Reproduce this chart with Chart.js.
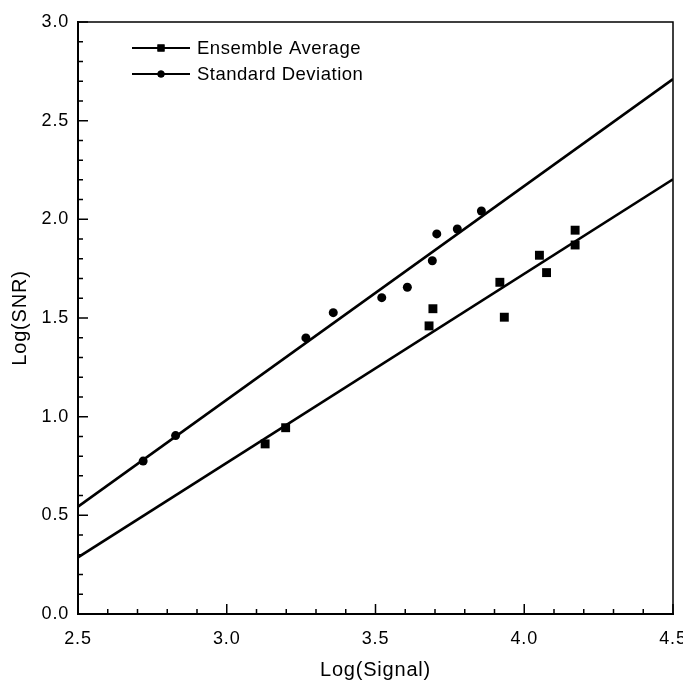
<!DOCTYPE html>
<html>
<head>
<meta charset="utf-8">
<script src="https://cdn.jsdelivr.net/npm/chart.js@4.4.0/dist/chart.umd.min.js"></script>
<style>
  html, body { margin: 0; padding: 0; background: #fff; }
  #wrap { width: 683px; height: 680px; }
</style>
</head>
<body>
<div id="wrap"><canvas id="grafico"></canvas></div>
<script>
// valores
const avgX = [3.129, 3.198, 3.680, 3.693, 3.918, 3.933, 4.051, 4.075, 4.171, 4.171];
const avgY = [0.862, 0.944, 1.460, 1.547, 1.681, 1.504, 1.818, 1.730, 1.945, 1.870];
const sdX = [2.719, 2.828, 3.266, 3.358, 3.521, 3.607, 3.691, 3.706, 3.775, 3.856];
const sdY = [0.775, 0.904, 1.399, 1.527, 1.603, 1.656, 1.790, 1.926, 1.951, 2.042];
// retas ajustadas (extremos)
const fitX = [2.5, 4.5];
const avgFitY = [0.287, 2.203];
const sdFitY = [0.544, 2.711];
const seriesNames = ['Ensemble Average', 'Standard Deviation'];
const xMajor = [2.5, 3.0, 3.5, 4.0, 4.5];
const yMajor = [0.0, 0.5, 1.0, 1.5, 2.0, 2.5, 3.0];

const fonte = "'Liberation Sans', Arial, sans-serif";

function pares(xs, ys) {
  return xs.map((x, i) => ({ x: x, y: ys[i] }));
}

function isMajor(v, lista) {
  return lista.some(m => Math.abs(m - v) < 1e-6);
}

// a fonte do original e um pouco mais larga
const espacoPlugin = {
  id: 'espaco',
  beforeLayout(chart) { chart.ctx.letterSpacing = '0.8px'; },
  beforeDraw(chart) { chart.ctx.letterSpacing = '0.8px'; }
};

// ticks para dentro + moldura
const eixosPlugin = {
  id: 'eixos',
  afterDraw(chart) {
    const ctx = chart.ctx;
    const a = chart.chartArea;
    const sx = chart.scales.x, sy = chart.scales.y;
    ctx.save();
    ctx.strokeStyle = '#000';
    ctx.lineWidth = 1.5;
    ctx.beginPath();
    ctx.moveTo(a.left, a.top);
    ctx.lineTo(a.right, a.top);
    ctx.lineTo(a.right, a.bottom);
    ctx.stroke();

    ctx.beginPath();
    sx.ticks.forEach(t => {
      const px = sx.getPixelForValue(t.value);
      const len = isMajor(t.value, xMajor) ? 10 : 5;
      ctx.moveTo(px, a.bottom);
      ctx.lineTo(px, a.bottom - len);
    });
    sy.ticks.forEach(t => {
      const py = sy.getPixelForValue(t.value);
      const len = isMajor(t.value, yMajor) ? 10 : 5;
      ctx.moveTo(a.left, py);
      ctx.lineTo(a.left + len, py);
    });
    ctx.stroke();
    ctx.restore();
  }
};

// legenda dentro da area do grafico
const legendaPlugin = {
  id: 'legenda',
  afterDraw(chart) {
    const ctx = chart.ctx;
    const itens = [
      { nome: seriesNames[0], estilo: 'rect', raio: 5, y: 48 },
      { nome: seriesNames[1], estilo: 'circle', raio: 3.5, y: 74 }
    ];
    ctx.save();
    ctx.letterSpacing = '0.5px';
    itens.forEach(it => {
      ctx.strokeStyle = '#000';
      ctx.lineWidth = 2;
      ctx.beginPath();
      ctx.moveTo(132, it.y);
      ctx.lineTo(190, it.y);
      ctx.stroke();
      ctx.fillStyle = '#000';
      Chart.helpers.drawPoint(ctx, { pointStyle: it.estilo, radius: it.raio, borderWidth: 0 }, 161, it.y);
      ctx.fill();
      ctx.font = '18.5px ' + fonte;
      ctx.textBaseline = 'middle';
      ctx.textAlign = 'left';
      ctx.fillText(it.nome, 197, it.y + 1);
    });
    ctx.restore();
  }
};

const tickLabel = lista => function (v) {
  return isMajor(v, lista) ? v.toFixed(1) : '';
};

new Chart(grafico, {
  type: 'scatter',
  data: {
    datasets: [
      {
        label: seriesNames[0],
        data: pares(avgX, avgY),
        pointStyle: 'rect',
        pointRadius: 6.3,
        backgroundColor: '#000',
        borderColor: '#000',
        borderWidth: 0
      },
      {
        label: seriesNames[1],
        data: pares(sdX, sdY),
        pointStyle: 'circle',
        pointRadius: 4.5,
        backgroundColor: '#000',
        borderColor: '#000',
        borderWidth: 0
      },
      {
        label: 'fit1',
        data: pares(fitX, avgFitY),
        showLine: true,
        pointRadius: 0,
        borderColor: '#000',
        borderWidth: 2.6
      },
      {
        label: 'fit2',
        data: pares(fitX, sdFitY),
        showLine: true,
        pointRadius: 0,
        borderColor: '#000',
        borderWidth: 2.6
      }
    ]
  },
  options: {
    responsive: true,
    maintainAspectRatio: false,
    animation: false,
    layout: { padding: { left: 0, right: 10, top: 22, bottom: 0 } },
    plugins: {
      legend: { display: false },
      tooltip: { enabled: false }
    },
    scales: {
      x: {
        type: 'linear',
        min: 2.5,
        max: 4.5,
        grid: { display: false, drawTicks: false },
        border: { display: true, color: '#000', width: 2 },
        ticks: {
          stepSize: 0.1,
          autoSkip: false,
          maxRotation: 0,
          padding: 14,
          color: '#000',
          font: { family: fonte, size: 18 },
          callback: tickLabel(xMajor)
        },
        title: {
          display: true,
          text: 'Log(Signal)',
          color: '#000',
          font: { family: fonte, size: 20 },
          padding: { top: 0, bottom: -2 }
        },
        afterFit(scale) {
          scale.height = 66;
          scale.paddingLeft = 0;
          scale.paddingRight = 0;
        }
      },
      y: {
        type: 'linear',
        min: 0,
        max: 3,
        grid: { display: false, drawTicks: false },
        border: { display: true, color: '#000', width: 2 },
        ticks: {
          stepSize: 0.1,
          autoSkip: false,
          padding: 9,
          color: '#000',
          font: { family: fonte, size: 18 },
          callback: tickLabel(yMajor)
        },
        title: {
          display: true,
          text: 'Log(SNR)',
          color: '#000',
          font: { family: fonte, size: 20 },
          padding: { top: 8, bottom: 0 }
        },
        afterFit(scale) {
          scale.width = 78;
          scale.paddingTop = 0;
          scale.paddingBottom = 0;
        }
      }
    }
  },
  plugins: [espacoPlugin, eixosPlugin, legendaPlugin]
});
</script>
</body>
</html>
